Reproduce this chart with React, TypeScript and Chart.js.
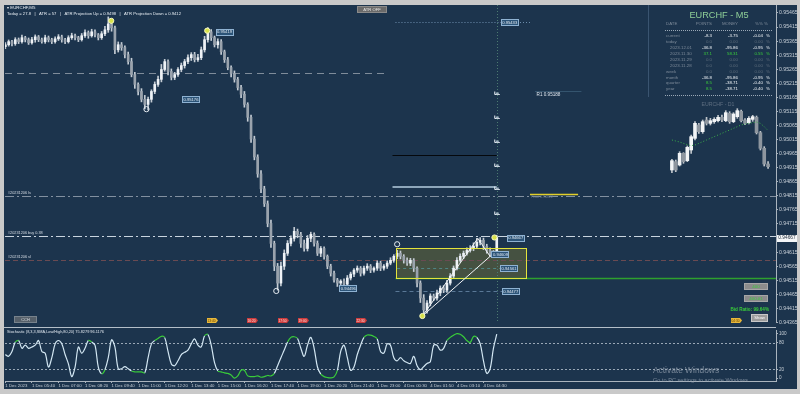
import React, { useEffect, useRef } from "react";
import { Chart, registerables } from "chart.js";
Chart.register(...registerables);

// ---------------- DATA ----------------
const TIME_LABELS = ["1 Dec 2023","1 Dec 05:40","1 Dec 07:00","1 Dec 08:20","1 Dec 09:40","1 Dec 11:00","1 Dec 12:20","1 Dec 13:40","1 Dec 15:00","1 Dec 16:20","1 Dec 17:40","1 Dec 19:00","1 Dec 20:20","1 Dec 21:40","1 Dec 23:00","4 Dec 00:30","4 Dec 01:50","4 Dec 03:10","4 Dec 04:30"];
const LABEL_EVERY = 8;
const FIRST_OPEN = 0.95345;
const CLOSE = [
  0.95352,0.95363,0.95356,0.95370,0.95363,0.95377,0.95370,0.95359,0.95370,0.95380,
  0.95370,0.95363,0.95377,0.95370,0.95363,0.95373,0.95380,0.95370,0.95363,0.95377,
  0.95384,0.95377,0.95370,0.95384,0.95395,0.95384,0.95398,0.95387,0.95377,0.95391,
  0.95405,0.95426,0.95412,0.95334,0.95352,0.95342,0.95317,0.95292,0.95246,0.95211,
  0.95186,0.95158,0.95140,0.95158,0.95186,0.95211,0.95229,0.95264,0.95292,0.95257,
  0.95236,0.95246,0.95264,0.95278,0.95292,0.95306,0.95317,0.95299,0.95306,0.95334,
  0.95370,0.95398,0.95377,0.95352,0.95363,0.95327,0.95299,0.95271,0.95250,0.95229,
  0.95200,0.95176,0.95140,0.95094,0.95017,0.94953,0.94893,0.94840,0.94787,0.94717,
  0.94646,0.94565,0.94505,0.94565,0.94611,0.94646,0.94664,0.94689,0.94678,0.94646,
  0.94628,0.94664,0.94678,0.94646,0.94611,0.94628,0.94600,0.94565,0.94540,0.94516,
  0.94505,0.94512,0.94501,0.94523,0.94537,0.94551,0.94558,0.94540,0.94558,0.94565,
  0.94551,0.94558,0.94576,0.94558,0.94565,0.94576,0.94586,0.94600,0.94611,0.94600,
  0.94586,0.94576,0.94586,0.94558,0.94505,0.94452,0.94410,0.94434,0.94459,0.94452,
  0.94470,0.94487,0.94480,0.94505,0.94530,0.94558,0.94586,0.94600,0.94611,0.94621,
  0.94628,0.94636,0.94650,0.94657,0.94636,0.94621,0.94607,0.94611,0.94667
];
// wick lengths above / below the body, in points (0.00001)
const WICK_UP = [
  8,6,5,7,6,9,5,6,8,7,5,6,9,6,5,7,8,6,5,7,9,6,5,8,10,6,9,7,5,8,12,25,10,
  6,10,8,6,9,12,8,6,10,14,8,6,9,12,18,8,6,9,8,7,9,8,10,7,8,12,10,12,
  15,8,6,10,7,6,8,6,9,7,8,10,6,8,10,8,12,9,10,12,8,10,
  15,12,10,9,14,8,7,12,10,8,6,9,7,6,5,7,8,6,5,8,9,7,6,8,6,7,9,6,5,8,7,6,8,9,6,
  10,8,6,9,7,6,5,8,12,9,8,7,10,8,9,10,9,8,10,9,8,9,10,12,14,10,8,7,9,10,8
];
const WICK_DN = [
  7,5,8,6,7,5,8,6,5,9,7,5,6,8,7,5,6,9,7,5,6,8,7,5,6,9,5,7,8,6,7,9,12,
  14,8,10,12,9,8,14,12,9,16,20,10,8,7,9,6,12,9,8,7,8,9,7,10,8,6,7,8,
  9,10,8,12,9,10,8,12,10,9,12,10,14,12,10,12,14,10,12,14,16,25,
  10,12,8,9,10,12,14,10,9,12,10,8,12,10,9,10,8,12,10,9,8,7,9,8,10,7,8,9,7,8,9,7,8,6,7,
  8,9,10,8,9,12,14,16,20,12,10,9,8,10,9,8,7,8,6,7,8,7,6,8,7,9,12,10,8,7,6
];
const STOCH = [
  52.8,49,60,81,84.5,67,74,67,70,74, 84.5,60,56,25,46,77,84.5,77,53,32,
  3.5,25,70,56,67,84.5,81,74,25,10, 19,46,86,70,21,21,26,21,16,14,
  14,14,12,46,77,84.5,89,94,91,60, 32,28,39,53,58,63,77,88,74,70,
  95,98,74,35,16,14,12,10.6,7,0, 5,17.6,17.6,5,3.5,3.5,5,2,3.5,6,
  5,10.6,28,46,63,81,91.5,93,89,67, 49,74,91.5,67,25,9,3.5,1.4,0.7,3,
  17.6,60,74,46,17.6,25,53,74,91.5,97, 96.5,93.7,88,60,56,77,74,46,39,46,
  39,35,33,49,28,19,26,33,37,74, 74,63,67,84.5,91.5,96.5,100,98.6,93,84.5,
  80,93.7,91.5,77.5,39,10.6,21,67,98.6
];
const PRICE_TICKS = [0.95465,0.95415,0.95365,0.95315,0.95265,0.95215,0.95165,0.95115,0.95065,0.95015,0.94965,0.94915,0.94865,0.94815,0.94765,0.94715,0.94615,0.94565,0.94515,0.94465,0.94415,0.94365];
const STOCH_TICKS = [100, 80, 20, 0];
const STOCH_LEVELS = [80, 20];
const CURRENT_PRICE = 0.94667;

// levels and objects on the price chart
const PREV_DASH_PRICE = 0.95253;
const TOP_DOT_PRICE = 0.95433;
const BLACK_PRICE = 0.94960;
const STEEL_PRICE = 0.94847;
const R1_PRICE = 0.95188;
const PIVOT_PRICE = 0.94822;
const LS_PRICE = 0.94815;
const BUY_PRICE = 0.94671;
const SL_PRICE = 0.94586;
const MID_DASH_PRICE = 0.94558;
const GREEN_PRICE = 0.94523;
const LOW_DASH_PRICE = 0.94476;
const BOX_TOP = 0.94628;
const BOX_BOTTOM = 0.94523;
const BOX_FROM_BAR = 117.7;
const BOX_TO_BAR = 157;
const TRI_BARS = [125.6, 142.3, 146];
const TRI_PRICES = [0.94388, 0.94664, 0.94600];
const FIB_PRICES = [0.95176, 0.95091, 0.95006, 0.94921, 0.94840, 0.94752];
const MARK_BARS = [31.9, 42.5, 60.8, 81.6, 118, 125.6, 147.3];
const MARK_PRICES = [0.95437, 0.95123, 0.95402, 0.94477, 0.94643, 0.94388, 0.94667];
const MARK_KINDS = ["y", "w", "y", "w", "w", "y", "y"];
const TAG_BARS = [53.2, 63.3, 100.6, 149.2, 151, 146.4, 149, 149.5];
const TAG_PRICES = [0.95158, 0.95398, 0.94487, 0.95433, 0.94667, 0.94607, 0.94558, 0.94476];
const TAG_TEXTS = ["0.95176", "0.95419", "0.94496", "0.95433", "0.94667", "0.94609", "0.94561", "0.94477"];
const EVENT_BARS = [60.8, 72.9, 82, 88, 105.7, 218.6];
const EVENT_TEXTS = ["13:40", "16:20", "17:50", "19:00", "22:30", "04:30"];
const EVENT_KINDS = ["y", "r", "r", "r", "r", "y"];

// right-hand summary table
const TABLE_ROWS = ["current","today","2023.12.01","2023.11.30","2023.11.29","2023.11.28","week","month","quarter","year"];
const TABLE_POINTS = [-8.3, 0, -36.8, 37.1, 0, 0, 0, -36.8, 8.5, 8.5];
const TABLE_MONEY = [-3.75, 0, -95.86, 58.31, 0, 0, 0, -95.86, -38.71, -38.71];
const TABLE_PCT = [-0.04, 0, -0.95, 0.55, 0, 0, 0, -0.95, -0.40, -0.40];

// mini D1 chart
const D1_OPEN  = [0.9460,0.94725,0.94675,0.9485,0.9474,0.9490,0.95075,0.95275,0.95175,0.9535,0.9530,0.95325,0.9534,0.9539,0.9534,0.9545,0.95325,0.9540,0.9548,0.9535,0.9531,0.9536,0.9539,0.9516,0.94925,0.9469];
const D1_CLOSE = [0.9474,0.9460,0.9485,0.94725,0.9494,0.9510,0.9530,0.95175,0.95325,0.9530,0.9534,0.9536,0.9539,0.9535,0.9546,0.95325,0.9544,0.9549,0.9534,0.9530,0.95375,0.9540,0.9516,0.94925,0.9469,0.9465];
const D1_HIGH  = [0.9476,0.9475,0.94875,0.9486,0.9496,0.95125,0.95325,0.9530,0.9535,0.9539,0.95375,0.95385,0.9542,0.95425,0.9549,0.95475,0.9546,0.9552,0.9550,0.9537,0.9540,0.9542,0.9541,0.9518,0.9495,0.94725];
const D1_LOW   = [0.9456,0.94575,0.9466,0.9470,0.94725,0.9485,0.9505,0.9515,0.9515,0.95275,0.95275,0.9530,0.9532,0.95325,0.95325,0.9530,0.9531,0.95375,0.9532,0.9528,0.9529,0.9533,0.9514,0.9490,0.9466,0.94625];
const D1_MA    = [0.9505,0.95035,0.9502,0.9500,0.9498,0.94965,0.94975,0.9500,0.95025,0.9505,0.95075,0.9510,0.95125,0.9515,0.95175,0.9520,0.95225,0.9525,0.95275,0.9529,0.9530,0.9531,0.9532,0.9530,0.9525,0.9519];

// ---------------- STYLE ----------------
const FONT = '"Liberation Sans", Arial, sans-serif';
const NAVY = "#1c344d";
const FRAME = "#c9c9c9";
const AXIS_TXT = "#c8d0d8";
const AXIS_LINE = "#aab4be";
const BULL = "#eef2f6";
const BEAR = "#9aa3ad";
const WICK = "#c4ccd4";
const GREEN = "#39cc3a";

const X_MIN = -0.1;
const X_MAX = 232.1;
const Y_MAX = 0.954932;
const Y_MIN = 0.943636;

function hline(ctx: any, x1: number, x2: number, y: number, color: string, w = 1, dash: number[] = []) {
  ctx.save();
  ctx.strokeStyle = color; ctx.lineWidth = w; ctx.setLineDash(dash);
  const yy = Math.round(y) + (w % 2 ? 0.5 : 0);
  ctx.beginPath(); ctx.moveTo(x1, yy); ctx.lineTo(x2, yy); ctx.stroke();
  ctx.restore();
}
function seg(ctx: any, x1: number, y1: number, x2: number, y2: number, color: string, w = 1, dash: number[] = []) {
  ctx.save();
  ctx.strokeStyle = color; ctx.lineWidth = w; ctx.setLineDash(dash);
  ctx.beginPath(); ctx.moveTo(x1, y1); ctx.lineTo(x2, y2); ctx.stroke();
  ctx.restore();
}
function txt(ctx: any, s: string, x: number, y: number, color: string, size: number, align = "left", maxW = 0, weight = "") {
  ctx.save();
  ctx.fillStyle = color;
  ctx.font = `${weight} ${size}px ${FONT}`;
  ctx.textAlign = align; ctx.textBaseline = "middle";
  if (maxW) ctx.fillText(s, x, y, maxW); else ctx.fillText(s, x, y);
  ctx.restore();
}
function box(ctx: any, x: number, y: number, w: number, h: number, fill: string, stroke?: string) {
  ctx.save();
  ctx.fillStyle = fill; ctx.fillRect(x, y, w, h);
  if (stroke) { ctx.strokeStyle = stroke; ctx.lineWidth = 1; ctx.strokeRect(x + 0.5, y + 0.5, w - 1, h - 1); }
  ctx.restore();
}

const mainOverlay = {
  id: "mainOverlay",
  beforeDraw(chart: any) {
    const { ctx, width, height } = chart;
    ctx.save(); ctx.fillStyle = NAVY; ctx.fillRect(0, 0, width, height); ctx.restore();
  },
  beforeDatasetsDraw(chart: any) {
    const { ctx, chartArea: a, scales } = chart;
    const X = (v: number) => scales.x.getPixelForValue(v);
    const Y = (v: number) => scales.y.getPixelForValue(v);
    ctx.save();
    ctx.beginPath(); ctx.rect(a.left, a.top, a.right - a.left, a.bottom - a.top); ctx.clip();
    const bx1 = X(BOX_FROM_BAR), bx2 = X(BOX_TO_BAR), by1 = Y(BOX_TOP), by2 = Y(BOX_BOTTOM);
    ctx.fillStyle = "rgba(120,118,52,0.45)";
    ctx.fillRect(bx1, by1, bx2 - bx1, by2 - by1);
    hline(ctx, a.left, a.right, Y(LS_PRICE), "#8290a0", 1, [9, 3, 2, 3]);
    hline(ctx, a.left, a.right, Y(BUY_PRICE), "#c9d4df", 1, [9, 3, 2, 3]);
    hline(ctx, a.left, a.right, Y(SL_PRICE), "#6a4a52", 1, [5, 3]);
    hline(ctx, X(117.5), a.right, Y(GREEN_PRICE), "#2ea02e", 1.5);
    hline(ctx, X(117.5), X(155), Y(LOW_DASH_PRICE), "#5a7896", 1, [4, 3]);
    hline(ctx, X(118), X(150), Y(MID_DASH_PRICE), "#4f8484", 1, [3, 3]);
    hline(ctx, a.left, X(115.5), Y(PREV_DASH_PRICE), "#7f8c9a", 1, [7, 5]);
    hline(ctx, X(117.5), X(149.5), Y(TOP_DOT_PRICE), "#6f8fae", 1, [1, 2]);
    hline(ctx, X(155), X(158), Y(TOP_DOT_PRICE), "#6f8fae", 1, [1, 2]);
    hline(ctx, X(116.6), X(148), Y(BLACK_PRICE), "#05080c", 1.2);
    hline(ctx, X(116.6), X(148), Y(STEEL_PRICE), "#8ea6ba", 2);
    hline(ctx, X(159.5), X(173.5), Y(R1_PRICE), "#34546e", 1);
    txt(ctx, "R1 0.95188", X(160), Y(R1_PRICE) + 4, "#dfe6ee", 4.6);
    hline(ctx, X(158), X(172.5), Y(PIVOT_PRICE), "#e2cf2a", 1.6);
    txt(ctx, "Pivot 0.94822", X(158.3), Y(PIVOT_PRICE) + 3.5, "#6f7f90", 3.6);
    ctx.save();
    ctx.strokeStyle = "#4c7a70"; ctx.setLineDash([1, 2]); ctx.lineWidth = 1;
    const vx = Math.round(X(148)) + 0.5;
    ctx.beginPath(); ctx.moveTo(vx, a.top); ctx.lineTo(vx, a.bottom); ctx.stroke();
    ctx.restore();
    ctx.restore();
  },
  afterDatasetsDraw(chart: any) {
    const { ctx, scales } = chart;
    const X = (v: number) => scales.x.getPixelForValue(v);
    const Y = (v: number) => scales.y.getPixelForValue(v);
    const bx1 = X(BOX_FROM_BAR), bx2 = X(BOX_TO_BAR), by1 = Y(BOX_TOP), by2 = Y(BOX_BOTTOM);
    ctx.save(); ctx.strokeStyle = "#e4e43c"; ctx.lineWidth = 1;
    ctx.strokeRect(Math.round(bx1) + 0.5, Math.round(by1) + 0.5, Math.round(bx2 - bx1), Math.round(by2 - by1));
    ctx.restore();
    const P = TRI_BARS.map((b, i) => [X(b), Y(TRI_PRICES[i])]);
    seg(ctx, P[0][0], P[0][1], P[1][0], P[1][1], "#f2f4f6", 1);
    seg(ctx, P[0][0], P[0][1], P[2][0], P[2][1], "#f2f4f6", 1);
    seg(ctx, P[1][0], P[1][1], P[2][0], P[2][1], "#f2f4f6", 1);
    FIB_PRICES.forEach((p) => {
      const x = X(148), y = Math.round(Y(p)) + 0.5;
      seg(ctx, x - 2, y - 3, x - 2, y, "#e8eef4", 1);
      seg(ctx, x - 2, y, x + 3, y, "#e8eef4", 1);
      box(ctx, x - 1, y - 2, 3, 2, "#9fb0c0");
    });
    MARK_BARS.forEach((b, i) => {
      const x = X(b), y = Y(MARK_PRICES[i]);
      ctx.save();
      ctx.beginPath(); ctx.arc(x, y, 2.6, 0, Math.PI * 2);
      ctx.fillStyle = MARK_KINDS[i] === "y" ? "#d8e24a" : "rgba(0,0,0,0)";
      ctx.fill();
      ctx.strokeStyle = MARK_KINDS[i] === "y" ? "#f6f8c0" : "#e6ecf2"; ctx.lineWidth = 1; ctx.stroke();
      ctx.restore();
    });
    TAG_BARS.forEach((b, i) => {
      const x = X(b), y = Y(TAG_PRICES[i]);
      box(ctx, Math.round(x), Math.round(y - 3), 18, 7, "#2c5478", "#8fb2d2");
      txt(ctx, TAG_TEXTS[i], x + 9, y + 0.5, "#e0e8f0", 4.2, "center", 15);
    });
    EVENT_BARS.forEach((b, i) => {
      const x = Math.round(X(b)), y = 318;
      ctx.save();
      ctx.fillStyle = EVENT_KINDS[i] === "y" ? "#e8b83a" : "#cc3b3b";
      ctx.beginPath(); ctx.moveTo(x, y); ctx.lineTo(x + 9, y); ctx.lineTo(x + 11, y + 2.5); ctx.lineTo(x + 9, y + 5); ctx.lineTo(x, y + 5); ctx.closePath(); ctx.fill();
      ctx.restore();
      txt(ctx, EVENT_TEXTS[i], x + 4.5, y + 2.6, EVENT_KINDS[i] === "y" ? "#5a3a00" : "#ffe0e0", 3.4, "center", 8);
    });
    txt(ctx, "\u25BE EURCHF,M5", 7, 8, "#e8eef4", 4.4);
    txt(ctx, "Today = 27.8   |   ATR = 57   |   ATR Projection Up = 0.9498   |   ATR Projection Down = 0.9412", 7, 14, "#e8eef4", 4.4, "left", 174);
    box(ctx, 357, 6, 30, 7, "#6a6a6a", "#8a8a8a");
    txt(ctx, "ATR OFF", 372, 9.7, "#e4e4e4", 4.2, "center");
    txt(ctx, "#20231206 ls", 8, Y(LS_PRICE) - 3, "#d6dde5", 3.8);
    txt(ctx, "#20231206 buy 0.38", 8, Y(BUY_PRICE) - 3, "#d6dde5", 3.8);
    txt(ctx, "#20231206 sl", 8, Y(SL_PRICE) - 3, "#d6dde5", 3.8);
    seg(ctx, 648.5, 5, 648.5, 97, "#3a5470", 1);
    txt(ctx, "EURCHF - M5", 719, 15, "#8fcf98", 9.2, "center");
    const hy = 24;
    txt(ctx, "DATE", 666, hy, "#7d8a99", 4.4);
    txt(ctx, "POINTS", 712, hy, "#7d8a99", 4.4, "right");
    txt(ctx, "MONEY", 738, hy, "#7d8a99", 4.4, "right");
    txt(ctx, "%% %", 768, hy, "#7d8a99", 4.4, "right");
    hline(ctx, 665, 772, 30, "#9aa8b6", 1, [1, 1]);
    hline(ctx, 665, 772, 95, "#9aa8b6", 1, [1, 1]);
    const col = (v: number) => (v > 0 ? GREEN : v < 0 ? "#eef2f6" : "#5c6b7b");
    TABLE_ROWS.forEach((r, i) => {
      const y = 36 + i * 5.9;
      const isDate = /^\d/.test(r);
      txt(ctx, r, isDate ? 670 : 666, y, "#7d8a99", 4.4);
      txt(ctx, TABLE_POINTS[i].toFixed(1), 712, y, col(TABLE_POINTS[i]), 4.4, "right");
      txt(ctx, TABLE_MONEY[i].toFixed(2), 738, y, col(TABLE_MONEY[i]), 4.4, "right");
      txt(ctx, TABLE_PCT[i].toFixed(2), 763, y, col(TABLE_PCT[i]), 4.4, "right");
      txt(ctx, "%", 766, y, col(TABLE_PCT[i]), 4.4, "left");
    });
    txt(ctx, "EURCHF - D1", 718, 105, "#5e6e80", 5.2, "center");
    box(ctx, 744, 283, 24, 7, "#8c8c8c", "#a6a6a6");
    txt(ctx, "400", 756, 286.8, GREEN, 4.4, "center");
    box(ctx, 744, 295, 24, 7, "#8c8c8c", "#a6a6a6");
    txt(ctx, "400.01", 756, 298.8, GREEN, 4.4, "center");
    txt(ctx, "Bid Ratio: 99.64%", 769, 310, GREEN, 4.6, "right", 0, "bold");
    box(ctx, 751, 314, 17, 8, "#9c9c9c", "#c8c8c8");
    txt(ctx, "Show", 759.5, 318.2, "#ffffff", 4.2, "center");
    box(ctx, 14, 316, 23, 7, "#56606a", "#77828c");
    txt(ctx, "CCH", 25.5, 319.7, "#d8dde2", 4, "center");
  },
  afterDraw(chart: any) {
    const { ctx, scales } = chart;
    const y = scales.y.getPixelForValue(CURRENT_PRICE);
    box(ctx, 777, Math.round(y) - 3, 20, 7, "#f4f6f8");
    txt(ctx, CURRENT_PRICE.toFixed(5), 787, y + 0.5, "#1c2836", 4.8, "center", 19);
  },
};

const stochOverlay = {
  id: "stochOverlay",
  beforeDraw(chart: any) {
    const { ctx, width, height } = chart;
    ctx.save(); ctx.fillStyle = NAVY; ctx.fillRect(0, 0, width, height); ctx.restore();
    hline(ctx, 0, 776, 0, "#b4bec8", 1);
  },
  beforeDatasetsDraw(chart: any) {
    const { ctx, chartArea: a, scales } = chart;
    STOCH_LEVELS.forEach((l) => hline(ctx, a.left, a.right, scales.y.getPixelForValue(l), "#9aa8b6", 1, [2, 2]));
    txt(ctx, "Stochastic (8,3,3,SMA,Low/High,80,20) 75.8279 96.1176", 7, 4.5, "#dfe6ee", 3.9, "left", 97);
  },
  afterDraw(chart: any) {
    const { ctx } = chart;
    txt(ctx, "Activate Windows", 653, 44, "rgba(150,162,176,0.75)", 8.4);
    txt(ctx, "Go to PC settings to activate Windows.", 653, 53.5, "rgba(150,162,176,0.75)", 5.6);
  },
};

function makeMain(canvas: HTMLCanvasElement) {
  const bodies: any[] = [], wicks: any[] = [], colors: string[] = [];
  let open = FIRST_OPEN;
  CLOSE.forEach((c, i) => {
    const hi = Math.max(open, c) + WICK_UP[i] * 1e-5;
    const lo = Math.min(open, c) - WICK_DN[i] * 1e-5;
    bodies.push({ x: i, y: [open, c] });
    wicks.push({ x: i, y: [lo, hi] });
    colors.push(c >= open ? BULL : BEAR);
    open = c;
  });
  return new Chart(canvas, {
    type: "bar",
    data: {
      datasets: [
        { data: bodies, backgroundColor: colors, barThickness: 2, grouped: false, minBarLength: 1, order: 1 } as any,
        { data: wicks, backgroundColor: WICK, barThickness: 1, grouped: false, order: 2 } as any,
      ],
    },
    options: {
      animation: false, responsive: false, devicePixelRatio: 1,
      layout: { padding: { left: 5, top: 5, right: 0, bottom: 2 } },
      plugins: { legend: { display: false }, tooltip: { enabled: false } },
      scales: {
        x: { type: "linear", min: X_MIN, max: X_MAX, display: false, offset: false, bounds: "data" },
        y: {
          position: "right", min: Y_MIN, max: Y_MAX,
          afterBuildTicks: (s: any) => { s.ticks = PRICE_TICKS.map((v) => ({ value: v })); },
          afterFit: (s: any) => { s.width = 24; },
          ticks: { color: AXIS_TXT, font: { size: 5.2, family: FONT }, padding: 1, callback: (v: any) => Number(v).toFixed(5) },
          grid: { drawOnChartArea: false, tickLength: 2, color: AXIS_LINE },
          border: { color: AXIS_LINE },
        },
      },
    } as any,
    plugins: [mainOverlay],
  });
}

function makeStoch(canvas: HTMLCanvasElement) {
  const inZone = (c: any) =>
    (c.p0.parsed.y >= 80 && c.p1.parsed.y >= 80) || (c.p0.parsed.y <= 20 && c.p1.parsed.y <= 20) ? GREEN : undefined;
  return new Chart(canvas, {
    type: "line",
    data: {
      datasets: [{
        data: STOCH.map((v, i) => ({ x: i, y: v })),
        borderColor: "#d2e6f2", borderWidth: 1.2, pointRadius: 0, tension: 0.35,
        segment: { borderColor: inZone },
      } as any],
    },
    options: {
      animation: false, responsive: false, devicePixelRatio: 1,
      layout: { padding: { left: 5, top: 1, right: 0, bottom: 0 } },
      plugins: { legend: { display: false }, tooltip: { enabled: false } },
      scales: {
        x: {
          type: "linear", min: X_MIN, max: X_MAX, offset: false,
          afterBuildTicks: (s: any) => { s.ticks = TIME_LABELS.map((_, k) => ({ value: k * LABEL_EVERY })); },
          afterFit: (s: any) => { s.height = 8; },
          ticks: { color: AXIS_TXT, font: { size: 4.3, family: FONT }, padding: 0, align: "start", maxRotation: 0, autoSkip: false,
            callback: (_v: any, idx: number) => TIME_LABELS[idx] },
          grid: { drawOnChartArea: false, tickLength: 2, color: AXIS_LINE },
          border: { color: AXIS_LINE },
        },
        y: {
          position: "right", min: -6.4, max: 106.4,
          afterBuildTicks: (s: any) => { s.ticks = STOCH_TICKS.map((v) => ({ value: v })); },
          afterFit: (s: any) => { s.width = 24; },
          ticks: { color: AXIS_TXT, font: { size: 4.6, family: FONT }, padding: 1 },
          grid: { drawOnChartArea: false, tickLength: 2, color: AXIS_LINE },
          border: { color: AXIS_LINE },
        },
      },
    } as any,
    plugins: [stochOverlay],
  });
}

function makeMini(canvas: HTMLCanvasElement) {
  const colors = D1_CLOSE.map((c, i) => (c >= D1_OPEN[i] ? "#f2f4f6" : "#8e969f"));
  return new Chart(canvas, {
    type: "bar",
    data: {
      labels: D1_OPEN.map((_, i) => String(i)),
      datasets: [
        { type: "line", data: D1_MA, borderColor: "#3bb04a", borderDash: [1, 2], borderWidth: 1, pointRadius: 0, order: 0 } as any,
        { data: D1_OPEN.map((o, i) => [o, D1_CLOSE[i]]), backgroundColor: colors, barThickness: 3, grouped: false, order: 1 } as any,
        { data: D1_HIGH.map((h, i) => [D1_LOW[i], h]), backgroundColor: "#c0c6cc", barThickness: 1, grouped: false, order: 2 } as any,
      ],
    },
    options: {
      animation: false, responsive: false, devicePixelRatio: 1,
      layout: { padding: 0 },
      plugins: { legend: { display: false }, tooltip: { enabled: false } },
      scales: { x: { display: false, offset: true }, y: { display: false, min: 0.9445, max: 0.9565 } },
    } as any,
  });
}

export default function App() {
  const mainRef = useRef<HTMLCanvasElement>(null);
  const stochRef = useRef<HTMLCanvasElement>(null);
  const miniRef = useRef<HTMLCanvasElement>(null);
  useEffect(() => {
    document.body.style.margin = "0";
    const charts = [makeMain(mainRef.current!), makeStoch(stochRef.current!), makeMini(miniRef.current!)];
    return () => charts.forEach((c) => c.destroy());
  }, []);
  const frame = (l: number, t: number, w: number, h: number) => (
    <div style={{ position: "absolute", left: l, top: t, width: w, height: h, background: FRAME }} />
  );
  return (
    <div style={{ position: "relative", width: 800, height: 394, background: FRAME, overflow: "hidden" }}>
      <canvas ref={mainRef} width={800} height={327} style={{ position: "absolute", left: 0, top: 0 }} />
      <canvas ref={stochRef} width={800} height={62} style={{ position: "absolute", left: 0, top: 327 }} />
      <canvas ref={miniRef} width={100} height={80} style={{ position: "absolute", left: 670, top: 100 }} />
      {frame(0, 0, 800, 5)}
      {frame(0, 0, 4, 394)}
      {frame(797, 0, 3, 394)}
      {frame(0, 389, 800, 5)}
    </div>
  );
}
